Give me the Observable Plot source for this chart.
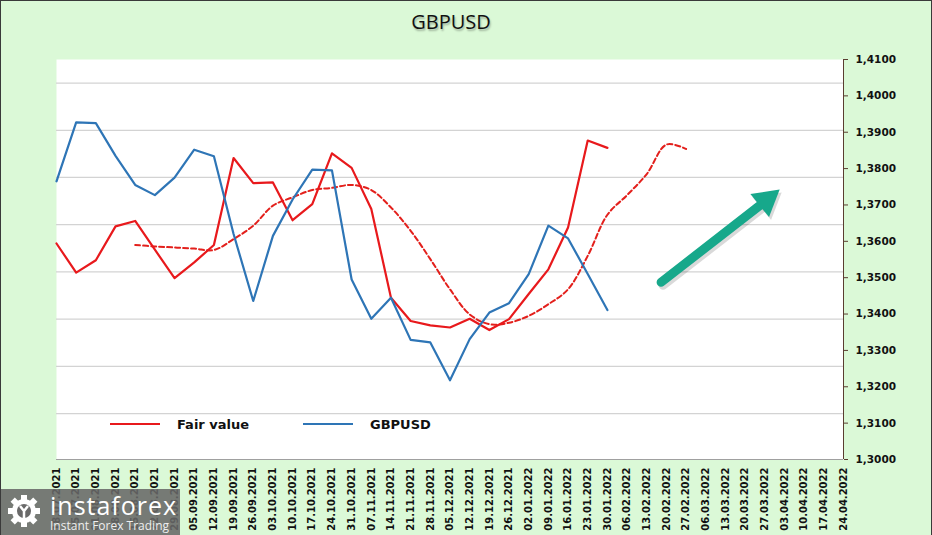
<!DOCTYPE html>
<html><head><meta charset="utf-8">
<script src="https://cdn.jsdelivr.net/npm/d3@7"></script>
<script src="https://cdn.jsdelivr.net/npm/@observablehq/plot@0.6"></script>
<style>
html,body{margin:0;padding:0;background:#dbf9d7;}
#wrap{position:relative;width:932px;height:535px;background:#dbf9d7;overflow:hidden;}
#border{position:absolute;left:0;top:0;width:930px;height:540px;border:1px solid #3a3a3a;pointer-events:none;}
#title{position:absolute;left:0;top:12px;width:902px;text-align:center;font:20px/20px "Open Sans",sans-serif;color:#111;text-shadow:1px 2px 2px rgba(0,0,0,0.28);}
#chart{position:absolute;left:0;top:45px;}
.leg{position:absolute;font:bold 13px/13px "DejaVu Sans",sans-serif;color:#111;}
.legline{position:absolute;height:2px;}
#logo{position:absolute;left:0;top:489px;width:180px;height:46px;background:rgba(104,104,104,0.88);}
#logo .big{position:absolute;left:50px;top:4px;font:25px/25px "Open Sans",sans-serif;color:#fff;letter-spacing:1px;}
#logo .small{position:absolute;left:50px;top:31px;font:12px/12px "Open Sans",sans-serif;color:#eee;}
</style></head>
<body>
<div id="wrap">
  <div id="title">GBPUSD</div>
  <div id="chart"></div>
  <div class="legline" style="left:110px;top:423px;width:50px;background:#e8191c"></div>
  <div class="leg" style="left:177px;top:418px">Fair value</div>
  <div class="legline" style="left:303px;top:423px;width:50px;background:#2e75b6"></div>
  <div class="leg" style="left:370px;top:418px">GBPUSD</div>
  <div id="logo">
    <svg width="46" height="46" style="position:absolute;left:2px;top:2px">
      <g transform="translate(22,20)" fill="#fff">
        <circle r="12"/>
        <g id="teeth">
          <rect x="-3" y="-16" width="6" height="6"/>
          <rect x="-3" y="-16" width="6" height="6" transform="rotate(45)"/>
          <rect x="-3" y="-16" width="6" height="6" transform="rotate(90)"/>
          <rect x="-3" y="-16" width="6" height="6" transform="rotate(135)"/>
          <rect x="-3" y="-16" width="6" height="6" transform="rotate(180)"/>
          <rect x="-3" y="-16" width="6" height="6" transform="rotate(225)"/>
          <rect x="-3" y="-16" width="6" height="6" transform="rotate(270)"/>
          <rect x="-3" y="-16" width="6" height="6" transform="rotate(315)"/>
        </g>
        <circle r="7" fill="#6a6a6a"/>
        <path d="M-4,-5 L0,0 L4,-5 M0,0 L0,9" stroke="#fff" stroke-width="2.5" fill="none"/>
      </g>
    </svg>
    <div class="big">instaforex</div>
    <div class="small">Instant Forex Trading</div>
  </div>
  <div id="border"></div>
</div>
<script>
const dates = ["18.07.2021","25.07.2021","01.08.2021","08.08.2021","15.08.2021","22.08.2021","29.08.2021",
  "05.09.2021","12.09.2021","19.09.2021","26.09.2021","03.10.2021","10.10.2021","17.10.2021","24.10.2021",
  "31.10.2021","07.11.2021","14.11.2021","21.11.2021","28.11.2021","05.12.2021","12.12.2021","19.12.2021",
  "26.12.2021","02.01.2022","09.01.2022","16.01.2022","23.01.2022","30.01.2022","06.02.2022","13.02.2022",
  "20.02.2022","27.02.2022","06.03.2022","13.03.2022","20.03.2022","27.03.2022","03.04.2022","10.04.2022",
  "17.04.2022","24.04.2022"];

const gbpusd = [1.3765,1.3927,1.3925,1.3835,1.3755,1.3727,1.3775,1.3852,1.3834,1.3620,
  1.3436,1.3615,1.3715,1.3797,1.3795,1.3495,1.3387,1.3445,1.3329,1.3322,
  1.3218,1.3331,1.3404,1.3430,1.3510,1.3643,1.3608,1.3510,1.3411];

const fairValue = [1.3594,1.3514,1.3548,1.3641,1.3656,1.3577,1.3499,1.3542,1.3590,1.3829,
  1.3760,1.3762,1.3658,1.3702,1.3842,1.3802,1.3689,1.3445,1.3381,1.3369,
  1.3363,1.3387,1.3356,1.3386,1.3455,1.3523,1.3638,1.3877,1.3857];

const fairTrendStart = 4;
const fairTrend = [1.3590,1.3586,1.3583,1.3580,1.3576,1.3606,1.3643,1.3698,1.3721,1.3741,
  1.3747,1.3755,1.3741,1.3693,1.3629,1.3551,1.3468,1.3399,1.3372,1.3376,
  1.3395,1.3427,1.3468,1.3560,1.3673,1.3727,1.3785,1.3866,1.3854];

const yTicks = [1.30,1.31,1.32,1.33,1.34,1.35,1.36,1.37,1.38,1.39,1.40,1.41];
const gridValues = [1.3126,1.3256,1.3386,1.3516,1.3646,1.3776,1.3905,1.4035];

// trend arrow annotation (in chart units: week index, rate)
const arrowShaft = [{x1: 30.73, y1: 1.34875, x2: 35.72, y2: 1.36974}];
const arrowHead = [{x: 36.08, y: 1.37130}];

const seriesRows = (vals, start = 0) => vals.map((v, k) => ({i: k + start, v}));

const green = "#17a88b";
const chart = Plot.plot({
  width: 932,
  height: 490,
  marginLeft: 56,
  marginRight: 89,
  marginTop: 14,
  marginBottom: 76,
  style: {fontFamily: "DejaVu Sans, sans-serif", fontSize: "10px", fontWeight: "bold", color: "#111", background: "transparent"},
  x: {type: "linear", domain: [0, dates.length - 1]},
  y: {domain: [1.30, 1.41]},
  marks: [
    Plot.frame({fill: "white", stroke: null}),
    Plot.ruleY(gridValues, {stroke: "#d3d3d3", strokeWidth: 1.3}),
    Plot.ruleY([1.30], {stroke: "#a0a0a0", strokeWidth: 1.2}),
    Plot.ruleX([dates.length - 1], {stroke: "#5a3d30", strokeWidth: 1}),
    Plot.axisX({ticks: d3.range(dates.length), tickFormat: i => dates[i], tickRotate: -90,
      tickSize: 0, tickPadding: 8, anchor: "bottom", label: null, fill: "#111"}),
    Plot.axisY({ticks: yTicks, tickFormat: d => d.toFixed(4).replace(".", ","), anchor: "right",
      tickSize: 4, tickPadding: 8, label: null, fontSize: 10.5, fill: "#111", stroke: "#5a3d30"}),
    Plot.line(seriesRows(fairTrend, fairTrendStart), {x: "i", y: "v", stroke: "#e3201c", strokeWidth: 2,
      strokeDasharray: "5,3", curve: "catmull-rom"}),
    Plot.line(seriesRows(fairValue), {x: "i", y: "v", stroke: "#e8191c", strokeWidth: 2.2}),
    Plot.line(seriesRows(gbpusd), {x: "i", y: "v", stroke: "#2e75b6", strokeWidth: 2.2}),
    Plot.link(arrowShaft, {x1: "x1", y1: "y1", x2: "x2", y2: "y2", stroke: "#000", strokeOpacity: 0.15,
      strokeWidth: 9, strokeLinecap: "round", dx: 2, dy: 3}),
    Plot.dot(arrowHead, {x: "x", y: "y", symbol: "triangle", r: 11, rotate: 51, fill: "#000",
      fillOpacity: 0.15, stroke: null, dx: 2, dy: 3}),
    Plot.link(arrowShaft, {x1: "x1", y1: "y1", x2: "x2", y2: "y2", stroke: green,
      strokeWidth: 9, strokeLinecap: "round"}),
    Plot.dot(arrowHead, {x: "x", y: "y", symbol: "triangle", r: 11, rotate: 51, fill: green, stroke: null})
  ]
});
document.getElementById("chart").appendChild(chart);
</script>
</body></html>
